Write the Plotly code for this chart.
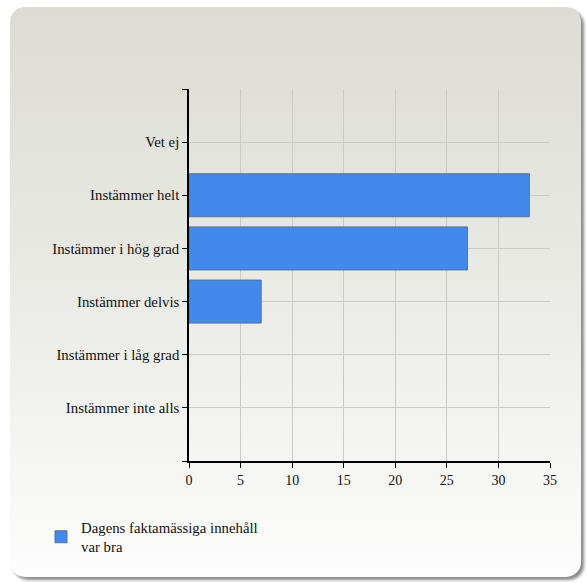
import base64
import plotly.graph_objects as go

# ---- data ----
categories = ["Instämmer inte alls", "Instämmer i låg grad", "Instämmer delvis",
              "Instämmer i hög grad", "Instämmer helt", "Vet ej"]
values = [0, 0, 7, 27, 33, 0]
series_name = "Dagens faktamässiga innehåll<br>var bra"
x_ticks = [0, 5, 10, 15, 20, 25, 30, 35]

W, H = 587, 583
ML, MR, MT, MB = 189, 37, 89, 122
PW, PH = W - ML - MR, H - MT - MB

FONT = "Liberation Serif"

# background card (decoration) as an SVG image
svg = f'''<svg xmlns="http://www.w3.org/2000/svg" width="{W}" height="{H}" viewBox="0 0 {W} {H}">
<defs>
<linearGradient id="g" x1="0" y1="0" x2="0" y2="1">
<stop offset="0" stop-color="#dcdcd4"/>
<stop offset="0.55" stop-color="#ecece8"/>
<stop offset="1" stop-color="#fdfdfd"/>
</linearGradient>
<filter id="s" x="-5%" y="-5%" width="110%" height="110%"><feGaussianBlur stdDeviation="1.6"/></filter>
</defs>
<rect x="13" y="10" width="571" height="570" rx="15" ry="15" fill="#8a8a8a" filter="url(#s)"/>
<rect x="10" y="7" width="571" height="570" rx="15" ry="15" fill="url(#g)"/>
</svg>'''
src = "data:image/svg+xml;base64," + base64.b64encode(svg.encode()).decode()

ypos = list(range(len(categories)))
xvals = [v if v else None for v in values]

fig = go.Figure()
fig.add_trace(go.Bar(
    y=ypos, x=xvals, orientation="h", name=series_name, width=0.81,
    marker=dict(color="#4189ea", line=dict(color="#5b7397", width=1)),
    showlegend=True,
))

fig.update_layout(
    width=W, height=H,
    margin=dict(l=ML, r=MR, t=MT, b=MB, pad=0),
    paper_bgcolor="white",
    plot_bgcolor="rgba(0,0,0,0)",
    font=dict(family=FONT, size=14.8, color="#111111"),
    images=[dict(source=src, xref="paper", yref="paper",
                 x=-ML / PW, y=(PH + MT) / PH, sizex=W / PW, sizey=H / PH,
                 xanchor="left", yanchor="top", sizing="stretch", layer="below")],
    xaxis=dict(range=[0, 35], tickvals=x_ticks, showgrid=True, gridcolor="#cbcbc6",
               gridwidth=1, showline=True, linecolor="black", linewidth=1.5,
               ticks="outside", ticklen=5, tickcolor="black", zeroline=False,
               tickfont=dict(family=FONT, size=14)),
    yaxis=dict(range=[-1, 6], tickvals=[-1] + ypos + [6],
               ticktext=[""] + categories + [""],
               showgrid=True, gridcolor="#cbcbc6", gridwidth=1,
               showline=True, linecolor="black", linewidth=1.5,
               ticks="outside", ticklen=5, tickcolor="black", zeroline=False,
               tickfont=dict(family=FONT, size=14.8)),
    legend=dict(x=(41 - ML) / PW, y=(PH + MT - 511) / PH, xanchor="left", yanchor="top",
                bgcolor="rgba(0,0,0,0)", font=dict(family=FONT, size=14.8)),
)

fig.write_html("out.html", config={"displayModeBar": False},
               post_script="document.body.style.margin='0';")
